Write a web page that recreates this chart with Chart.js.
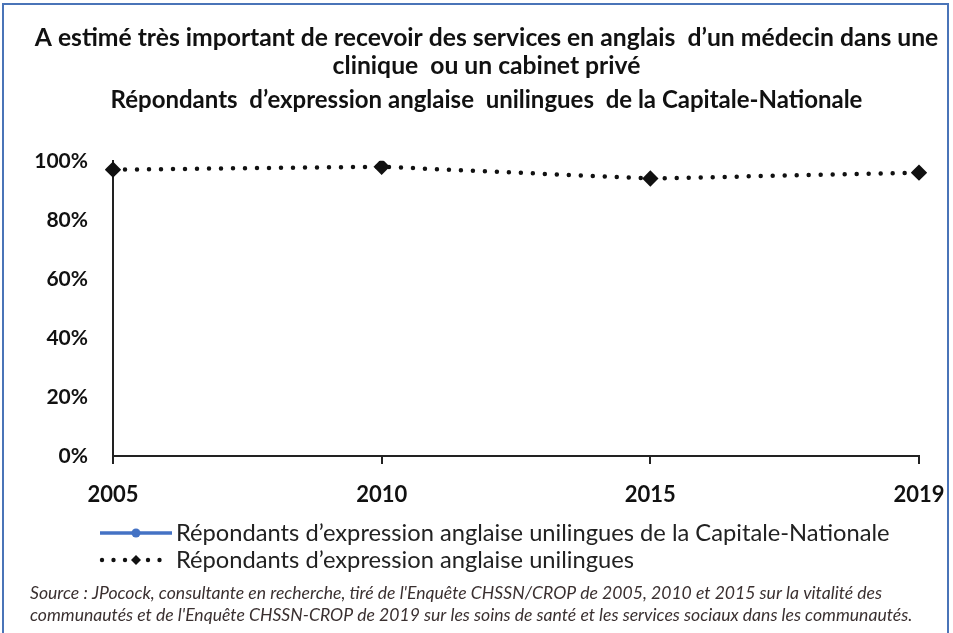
<!DOCTYPE html>
<html><head><meta charset="utf-8">
<script src="https://cdn.jsdelivr.net/npm/chart.js@4.4.0/dist/chart.umd.min.js"></script>
<style>
html,body{margin:0;padding:0;background:#fff;}
#wrap{position:absolute;left:0;top:0;width:953px;height:633px;}
#frame{position:absolute;left:2px;top:3px;width:947px;height:640px;border:2px solid #4a74b8;box-sizing:border-box;}
canvas{position:absolute;left:0;top:0;}
</style></head><body>
<div id="wrap"><div id="frame"></div><canvas id="c" width="953" height="633"></canvas></div>
<script>
const categories = ['2005', '2010', '2015', '2019'];
const capitaleNationale = [null, null, null, null];
const unilingues = [97, 98, 94, 96];
const yTicks = [0, 20, 40, 60, 80, 100];
const titleLines = ["A estimé très important de recevoir des services en anglais  d\u2019un médecin dans une", "clinique  ou un cabinet privé"];
const subtitleText = "Répondants  d\u2019expression anglaise  unilingues  de la Capitale-Nationale";
const seriesNames = ["Répondants d\u2019expression anglaise unilingues de la Capitale-Nationale", "Répondants d\u2019expression anglaise unilingues"];
const sourceLines = ["Source : JPocock, consultante en recherche, tiré de l'Enquête CHSSN/CROP de 2005, 2010 et 2015 sur la vitalité des", "communautés et de l'Enquête CHSSN-CROP de 2019 sur les soins de santé et les services sociaux dans les communautés."];

const FONT = "Lato, 'Open Sans', sans-serif";

const legendPlugin = {
  id: 'customLegend',
  afterDraw(chart) {
    const ctx = chart.ctx;
    ctx.save();
    let y1 = 533, y2 = 560;
    ctx.strokeStyle = '#4472c4'; ctx.lineWidth = 3.5;
    ctx.beginPath(); ctx.moveTo(100, y1); ctx.lineTo(172, y1); ctx.stroke();
    ctx.fillStyle = '#4472c4';
    ctx.beginPath(); ctx.arc(136, y1, 4.5, 0, Math.PI*2); ctx.fill();
    ctx.fillStyle = '#111';
    for (let x = 102; x <= 170; x += 11.5) {
      ctx.beginPath(); ctx.arc(x, y2, 2.2, 0, Math.PI*2); ctx.fill();
    }
    ctx.beginPath(); ctx.moveTo(136, y2-5); ctx.lineTo(141, y2); ctx.lineTo(136, y2+5); ctx.lineTo(131, y2); ctx.closePath(); ctx.fill();
    ctx.fillStyle = '#222';
    ctx.font = "23.7px " + FONT;
    ctx.textBaseline = 'middle'; ctx.textAlign = 'left';
    ctx.fillText(seriesNames[0], 176, y1);
    ctx.fillText(seriesNames[1], 176, y2);
    ctx.font = "italic 17.6px " + FONT;
    ctx.fillStyle = '#3a3030';
    ctx.fillText(sourceLines[0], 30, 593);
    ctx.fillText(sourceLines[1], 30, 615);
    ctx.restore();
  }
};

new Chart(document.getElementById('c'), {
  type: 'line',
  data: {
    labels: categories,
    datasets: [
      { label: seriesNames[0], data: capitaleNationale, borderColor: '#4472c4', backgroundColor: '#4472c4', borderWidth: 3.5, pointRadius: 4.5, pointStyle: 'circle' },
      { label: seriesNames[1], data: unilingues, borderColor: '#111', backgroundColor: '#111', borderWidth: 4.5, borderDash: [0, 12], borderCapStyle: 'round', pointStyle: 'rectRot', pointRadius: 5, tension: 0 }
    ]
  },
  options: {
    responsive: false,
    animation: false,
    devicePixelRatio: 1,
    layout: { padding: { left: 20, right: 0, top: 0, bottom: 127 } },
    plugins: {
      legend: { display: false },
      tooltip: { enabled: false },
      title: { display: true, text: titleLines, color: '#111', font: { family: FONT, size: 24.7, weight: 'bold', lineHeight: 1.13 }, padding: { top: 24, bottom: 0 } },
      subtitle: { display: true, text: subtitleText, color: '#111', font: { family: FONT, size: 24, weight: 'bold', lineHeight: 1.1667 }, padding: { top: 6, bottom: 47 } }
    },
    scales: {
      x: {
        offset: false,
        grid: { display: true, drawOnChartArea: false, drawTicks: true, tickLength: 8, color: '#222', lineWidth: 2 },
        border: { display: true, color: '#222', width: 2 },
        ticks: { color: '#111', padding: 18, maxRotation: 0, font: { family: FONT, size: 22, weight: 'bold' } },
        afterFit(s) { s.height = 50; s.paddingRight = 34; s.paddingLeft = 0; }
      },
      y: {
        min: 0, max: 100,
        afterBuildTicks(s) { s.ticks = yTicks.map(v => ({ value: v })); },
        grid: { display: false, drawTicks: false },
        border: { display: true, color: '#222', width: 2 },
        ticks: { color: '#111', padding: 25, font: { family: FONT, size: 21, weight: 'bold' }, callback: v => v + '%' },
        afterFit(s) { s.width = 93; }
      }
    }
  },
  plugins: [legendPlugin]
});
</script>
</body></html>
